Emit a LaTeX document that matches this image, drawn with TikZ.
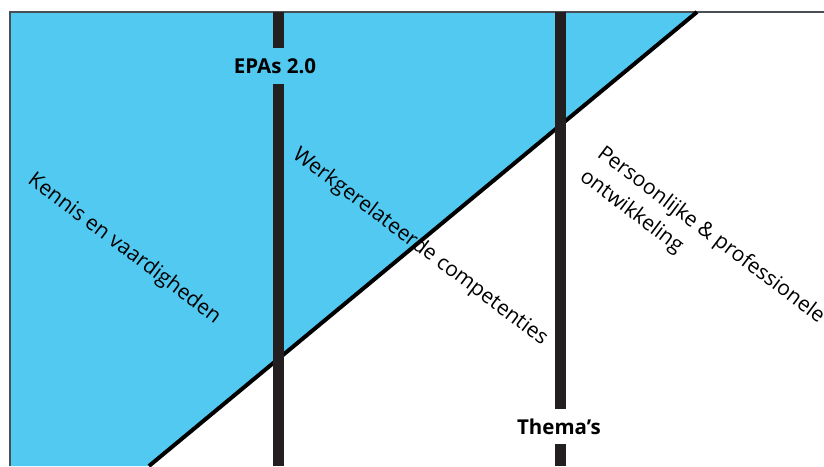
\documentclass[tikz,border=0pt]{standalone}
\usepackage{fontspec}
\setmainfont{Open Sans}
\definecolor{skyfill}{HTML}{52C9F1}
\definecolor{barcol}{HTML}{231F20}
\definecolor{framecol}{HTML}{4A4F55}
\begin{document}
\begin{tikzpicture}[x=1pt,y=-1pt,
  bar/.style={draw=barcol,line width=11pt},
  barlabel/.style={font=\bfseries\fontsize{20.5}{23}\selectfont,inner xsep=2pt,inner ysep=0pt,minimum height=36pt,text=black},
  slanted/.style={font=\fontsize{21}{29}\selectfont,rotate=-37,inner sep=0pt,text=black},
  diag/.style={draw=black,line width=4pt}]
\useasboundingbox (0,0) rectangle (824,466);
\fill[white] (0,0) rectangle (824,466);
% blue region
\coordinate (tl) at (10,12);
\coordinate (dtop) at (697,12);
\coordinate (dbot) at (149,466);
\coordinate (bl) at (10,466);
\coordinate (tr) at (824,12);
\fill[skyfill] (tl) -- (dtop) -- (dbot) -- (bl) -- cycle;
\draw[framecol,line width=1.2pt] (bl) -- (tl) -- (tr);
% slanted labels
\node[slanted] (kv) at (124,249) {Kennis en vaardigheden};
\node[slanted] (wc) at (420,247) {Werkgerelateerde competenties};
\node[slanted,align=left,anchor=north west] (pp) at (606,143) {Persoonlijke \& professionele\\ontwikkeling};
% diagonal
\draw[diag] (dbot) -- (dtop);
% bars
\coordinate (b1t) at (278,12);
\coordinate (b1b) at (278,466);
\coordinate (b2t) at (560,12);
\coordinate (b2b) at (560,466);
\node[barlabel] (epas) at (275,66) {EPAs 2.0};
\node[barlabel,minimum height=35pt] (thema) at (559,426.5) {Thema’s};
\draw[bar] (b1t) -- (b1t |- epas.north);
\draw[bar] (b1b |- epas.south) -- (b1b);
\draw[bar] (b2t) -- (b2t |- thema.north);
\draw[bar] (b2b |- thema.south) -- (b2b);
\end{tikzpicture}
\end{document}
